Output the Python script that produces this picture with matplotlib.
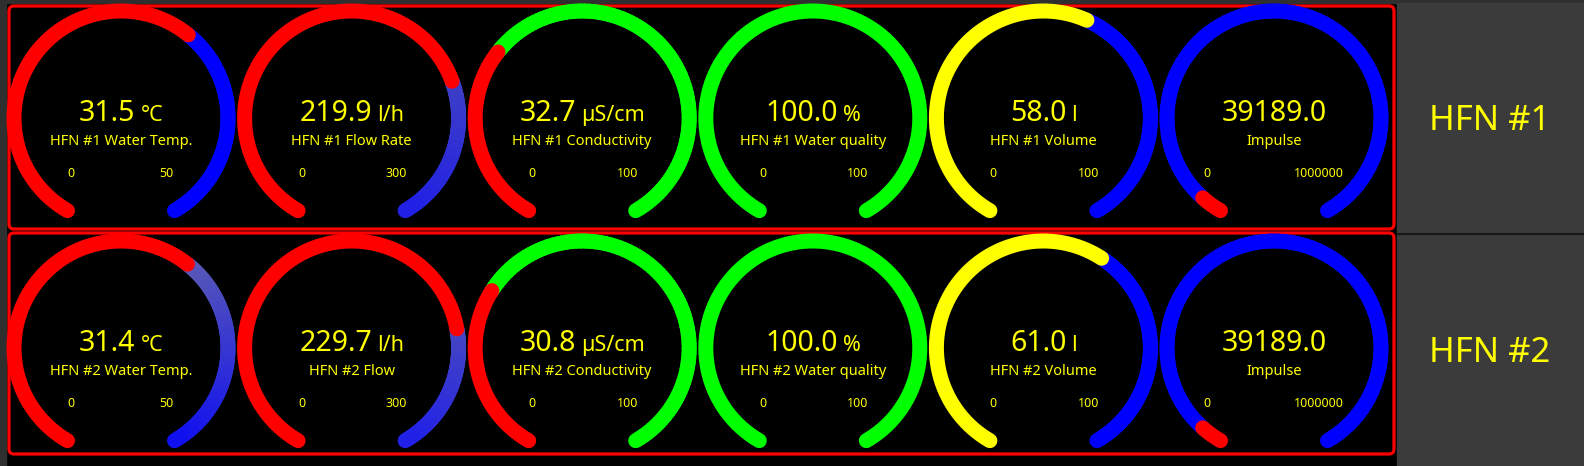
import matplotlib
matplotlib.use("Agg")
import matplotlib.pyplot as plt
import numpy as np
from matplotlib.collections import LineCollection
from matplotlib.patches import FancyBboxPatch, Rectangle
from matplotlib.colors import to_rgb

# ---------------- data ----------------
row_names = ["HFN #1", "HFN #2"]
labels_row1 = ["HFN #1 Water Temp.", "HFN #1 Flow Rate", "HFN #1 Conductivity",
               "HFN #1 Water quality", "HFN #1 Volume", "Impulse"]
labels_row2 = ["HFN #2 Water Temp.", "HFN #2 Flow", "HFN #2 Conductivity",
               "HFN #2 Water quality", "HFN #2 Volume", "Impulse"]
values_row1 = [31.5, 219.9, 32.7, 100.0, 58.0, 39189.0]
values_row2 = [31.4, 229.7, 30.8, 100.0, 61.0, 39189.0]
units = ["°C", "l/h", "µS/cm", "%", "l", ""]
mins = [0, 0, 0, 0, 0, 0]
maxs = [50, 300, 100, 100, 100, 1000000]

# value colour / remainder colour (start -> end of remainder)
value_colors = ["#ff0000", "#ff0000", "#ff0000", "#00ff00", "#ffff00", "#ff0000"]
rest_colors_row1 = [("#0000ff", "#0000ff"), ("#4040c4", "#2020e6"), ("#00ff00", "#00ff00"),
                    ("#00ff00", "#00ff00"), ("#0000ff", "#0000ff"), ("#0000ff", "#0000ff")]
rest_colors_row2 = [("#5c5cb4", "#1010f0"), ("#4848c0", "#2020e8"), ("#00ff00", "#00ff00"),
                    ("#00ff00", "#00ff00"), ("#0000ff", "#0000ff"), ("#0000ff", "#0000ff")]

W, H = 1584, 466
fig = plt.figure(figsize=(W / 100, H / 100), dpi=100)
fig.patch.set_facecolor("black")
ax = fig.add_axes([0, 0, 1, 1])
ax.set_xlim(0, W)
ax.set_ylim(H, 0)
ax.axis("off")
ax.set_facecolor("black")

FONT = "Noto Sans"
YEL = "#ffff00"

# outer frame
ax.add_patch(Rectangle((0, 0), 6, H, color="#2f2f2f", zorder=0))
ax.add_patch(Rectangle((0, 0), W, 3, color="#2f2f2f", zorder=0))
ax.add_patch(Rectangle((1397, 3), W - 1397, H - 3, color="#3b3b3b", zorder=0))
ax.plot([1397, W], [234, 234], color="#111111", lw=1.2, zorder=1)

# red row borders
for (y0, y1) in [(5, 230), (232, 455)]:
    ax.add_patch(FancyBboxPatch((9, y0 + 1), 1385, y1 - y0 - 2,
                                boxstyle="round,pad=0,rounding_size=5",
                                fc="none", ec="#ff0000", lw=2.3, zorder=2))

R = 107.0
LW = 15 * 72 / 100
START, SWEEP = 240.0, 300.0
centers_x = [121 + 230.6 * i for i in range(6)]
centers_y = [118, 348]


def pt(cx, cy, ang):
    a = np.deg2rad(ang)
    return cx + R * np.cos(a), cy - R * np.sin(a)


def arc_xy(cx, cy, a0, a1, n):
    a = np.linspace(a0, a1, n)
    return pt(cx, cy, a)


fig.canvas.draw()
renderer = fig.canvas.get_renderer()

for r, (vals, labs, rests) in enumerate([(values_row1, labels_row1, rest_colors_row1),
                                         (values_row2, labels_row2, rest_colors_row2)]):
    cy = centers_y[r]
    for i in range(6):
        cx = centers_x[i]
        frac = (vals[i] - mins[i]) / (maxs[i] - mins[i])
        frac = max(0.0, min(1.0, frac))
        a_val = START - SWEEP * frac
        a_end = START - SWEEP
        # remainder track with gradient
        if frac < 1.0:
            n = 80
            xs, ys = arc_xy(cx, cy, a_val, a_end, n + 1)
            segs = [[(xs[k], ys[k]), (xs[k + 1], ys[k + 1])] for k in range(n)]
            c0 = np.array(to_rgb(rests[i][0]))
            c1 = np.array(to_rgb(rests[i][1]))
            cols = [tuple(c0 + (c1 - c0) * k / (n - 1)) for k in range(n)]
            lc = LineCollection(segs, colors=cols, linewidths=LW, capstyle="round", zorder=3)
            ax.add_collection(lc)
        # value arc
        if frac > 0:
            xs, ys = arc_xy(cx, cy, START, a_val, 200)
            ax.plot(xs, ys, color=value_colors[i], lw=LW, solid_capstyle="round", zorder=4)

        # value + unit text, centred together
        vt = ax.text(0, cy + 3, f"{vals[i]:.1f}", fontsize=20.5, color=YEL,
                     family=FONT, ha="left", va="baseline", zorder=7)
        ut = ax.text(0, cy + 3, units[i], fontsize=15.5, color=YEL,
                     family=FONT, ha="left", va="baseline", zorder=7)
        wv = vt.get_window_extent(renderer).width
        wu = ut.get_window_extent(renderer).width if units[i] else 0
        gap = 5 if units[i] else 0
        total = wv + gap + wu
        x0 = cx - total / 2
        vt.set_x(x0)
        ut.set_x(x0 + wv + gap)

        ax.text(cx, cy + 27, labs[i], fontsize=10.5, color=YEL, family=FONT,
                ha="center", va="baseline", zorder=7)
        min_off = -67 if len(str(maxs[i])) > 4 else -50
        ax.text(cx + min_off, cy + 59, str(mins[i]), fontsize=9, color=YEL,
                family=FONT, ha="center", va="baseline", zorder=7)
        ax.text(cx + 45, cy + 59, str(maxs[i]), fontsize=9, color=YEL,
                family=FONT, ha="center", va="baseline", zorder=7)

# right-hand row names
for r, name in enumerate(row_names):
    ax.text(1489.5, [121, 352.5][r], name, fontsize=25, color=YEL, family=FONT,
            ha="center", va="center", zorder=7)

fig.savefig("out.png", dpi=100, facecolor=fig.get_facecolor())
